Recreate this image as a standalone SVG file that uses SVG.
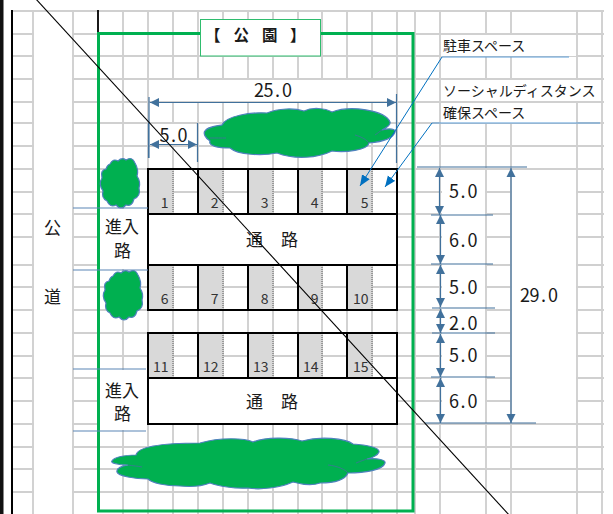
<svg xmlns="http://www.w3.org/2000/svg" xmlns:xlink="http://www.w3.org/1999/xlink" width="613" height="514" viewBox="0 0 613 514">
<style>
text{font-family:"Noto Sans CJK JP","Noto Sans",sans-serif;fill:#1a1a1a}
.g{stroke:#d0d0d0;stroke-width:1.9;fill:none}
.w{fill:#fff}
.k{stroke:#000;fill:none;stroke-width:2}
.p{fill:#d9d9d9}
.d{stroke:#707070;stroke-width:1.2;stroke-dasharray:1 1;fill:none}
.dim{stroke:#41719c;stroke-width:1.2;fill:none;marker-start:url(#a);marker-end:url(#a)}
.dimn{stroke:#41719c;stroke-width:1.2;fill:none}
.t{stroke:#5b86b5;stroke-width:1.2;fill:none}
.lead{stroke:#0070c0;stroke-width:1;fill:none;marker-end:url(#b)}
.leadline{stroke:#5b9bd5;stroke-width:1.2;fill:none}
.sh{fill:#00b050;stroke:#4f81bd;stroke-width:1.2}
.in{fill:none;stroke:#41719c;stroke-width:.8}
.num{font-size:18px}
.n{font-size:14px;text-anchor:end;fill:#333}
.lab{font-size:17px}
.c{font-size:14px}
</style>
<defs>
<marker id="a" markerWidth="10" markerHeight="10" refX="9" refY="5" orient="auto-start-reverse" markerUnits="userSpaceOnUse"><path d="M0 0.5L9 5L0 9.5Z" fill="#41719c"/></marker>
<marker id="b" markerWidth="12" markerHeight="10" refX="11" refY="5" orient="auto" markerUnits="userSpaceOnUse"><path d="M0 0.5L11 5L0 9.5Z" fill="#0070c0"/></marker>
<path id="shrub" class="sh" d="M10 6Q13 0 18 3Q22 -1 26 2Q32 -2 35 5Q39 12 37 18Q41 24 39 30Q41 38 34 41Q32 49 26 47Q21 53 16 47Q10 50 7 43Q1 40 3 33Q-2 26 2 20Q0 12 6 11Q7 7 10 6Z"/>
</defs>
<rect width="613" height="514" class="w"/>
<g id="grid">
<path class="g" d="M33 11V514M73 11V514M123 11V514M148 11V514M173 11V514M198 11V514M223 11V514M248 11V514M273 11V514M298 11V514M322 11V514M347 11V514M372 11V514M397 11V514M415 11V514M440 11V514M486 11V514M511 11V514M577 11V514M602 11V514"/>
<path class="g" d="M12 11H604M12 34H604M12 56H604M12 79H604M12 102H604M12 123H604M12 146H604M12 169H604M12 192H604M12 214H604M12 237H604M12 265H604M12 287H604M12 310H604M12 333H604M12 356H604M12 378H604M12 401H604M12 424H604M12 447H604M12 469H604M12 492H604"/>
<rect class="w" x="34" y="12" width="38" height="502"/>
<rect class="w" x="149" y="80" width="247" height="21"/>
<rect class="w" x="149" y="124" width="48" height="21"/>
<rect class="w" x="442" y="170" width="43" height="253"/>
<rect class="w" x="512" y="170" width="64" height="253"/>
<rect class="w" x="441" y="35" width="135" height="21"/>
<rect class="w" x="441" y="80" width="160" height="21"/>
<rect class="w" x="441" y="103" width="135" height="20"/>
</g>
<g id="site-lines">
<rect x="0" y="0" width="3.5" height="514" fill="#111"/>
<path d="M12 10V514" stroke="#000" stroke-width="2" fill="none"/>
<path d="M98 10V34" stroke="#000" stroke-width="1.8" fill="none"/>
</g>
<g id="park-boundary"><rect x="98.5" y="33.5" width="314.500" height="477.500" fill="none" stroke="#00b050" stroke-width="3"/></g>
<g id="park-title">
<rect x="200.500" y="19.500" width="120" height="36.500" fill="#fff" stroke="#2fbd6e" stroke-width="1"/>
<text x="205 220 233.500 250 262 280 290" y="41" font-size="15.500" font-weight="700">【 公 園 】</text>
</g>
<g id="road"><text class="lab" x="44" y="234" font-size="16">公</text><text class="lab" x="44" y="303">道</text></g>
<g id="entrance-1">
<rect class="w" x="100" y="209" width="47" height="60"/>
<text class="lab" x="105" y="233">進入</text><text class="lab" x="114" y="257">路</text>
</g>
<g id="entrance-2">
<rect class="w" x="100" y="370" width="47" height="60"/>
<text class="lab" x="105" y="397">進入</text><text class="lab" x="114" y="420">路</text>
</g>
<g id="parking-row-1">
<path class="p" d="M148 169h25v45h-25zM198 169h25v45h-25zM248 169h25v45h-25zM298 169h24v45h-24zM347 169h25v45h-25z"/>
<path class="d" d="M173 169v45M223 169v45M273 169v45M322 169v45M372 169v45"/>
<rect class="k" x="148" y="169" width="249" height="45"/>
<path class="k" d="M198 169v45M248 169v45M298 169v45M347 169v45"/>
<text class="n" x="168.500" y="208">1</text><text class="n" x="218.500" y="208">2</text><text class="n" x="268.500" y="208">3</text><text class="n" x="318.500" y="208">4</text><text class="n" x="368.500" y="208">5</text>
</g>
<g id="aisle-1"><rect x="148" y="214" width="249" height="51" fill="#fff" stroke="#000" stroke-width="2"/><text class="lab" x="246" y="246">通</text><text class="lab" x="281" y="246">路</text></g>
<g id="parking-row-2">
<path class="p" d="M148 265h25v45h-25zM198 265h25v45h-25zM248 265h25v45h-25zM298 265h24v45h-24zM347 265h25v45h-25z"/>
<path class="d" d="M173 265v45M223 265v45M273 265v45M322 265v45M372 265v45"/>
<rect class="k" x="148" y="265" width="249" height="45"/>
<path class="k" d="M198 265v45M248 265v45M298 265v45M347 265v45"/>
<text class="n" x="168.500" y="304">6</text><text class="n" x="218.500" y="304">7</text><text class="n" x="268.500" y="304">8</text><text class="n" x="318.500" y="304">9</text><text class="n" x="368.500" y="304">10</text>
</g>
<g id="parking-row-3">
<path class="p" d="M148 333h25v45h-25zM198 333h25v45h-25zM248 333h25v45h-25zM298 333h24v45h-24zM347 333h25v45h-25z"/>
<path class="d" d="M173 333v45M223 333v45M273 333v45M322 333v45M372 333v45"/>
<rect class="k" x="148" y="333" width="249" height="45"/>
<path class="k" d="M198 333v45M248 333v45M298 333v45M347 333v45"/>
<text class="n" x="168.500" y="372">11</text><text class="n" x="218.500" y="372">12</text><text class="n" x="268.500" y="372">13</text><text class="n" x="318.500" y="372">14</text><text class="n" x="368.500" y="372">15</text>
</g>
<g id="aisle-2"><rect x="148" y="378" width="249" height="46" fill="#fff" stroke="#000" stroke-width="2"/><text class="lab" x="246" y="408">通</text><text class="lab" x="281" y="408">路</text></g>
<g id="shrub-left-1"><use xlink:href="#shrub" href="#shrub" x="100" y="158"/></g>
<g id="shrub-left-2"><use xlink:href="#shrub" href="#shrub" x="103" y="270"/></g>
<g id="shrub-top">
<path class="sh" d="M222 125C226 116 250 112 267 113C278 108 295 108 304 111C312 107 325 108 332 112C350 105 385 110 390 122C391 125 386 128 382 130C390 128 396 129 395 132C393 139 380 142 369 143C368 150 345 153 332 151C318 158 295 160 277 153C262 156 238 155 230 148C218 148 208 146 210 141C205 138 203 133 205 131C207 127 215 126 222 125Z"/>
<path class="in" d="M375 135C378 133 380 131 382 130M355 135C362 137 367 140 369 143M210 138C215 138 222 138 226 138"/>
</g>
<g id="shrub-bottom">
<path class="sh" d="M136 455C138 446 165 443 200 443C220 437 245 438 253 442C265 437 290 437 302 441C320 436 345 438 353 444C365 445 380 447 379 452C378 455 372 458 367 459C378 458 386 460 385 463C383 470 365 473 348 473C345 480 335 483 320 483C312 486 300 484 293 482C280 488 260 490 248 488C235 489 218 486 210 483C200 487 190 487 180 486C165 486 152 483 148 479C135 479 118 476 117 472C116 468 122 466 128 465C118 465 110 463 112 461C114 457 125 455 136 455Z"/>
<path class="in" d="M356 463C361 461 364 460 367 459M328 465C338 466 346 470 348 473M128 465C133 466 138 466 142 467"/>
</g>
<g id="connectors">
<path class="t" d="M73 208H148M73 270H148M73 369H146M73 431H146"/>
<path class="dimn" d="M149 97V158M396.500 94V163M148.500 123V158M197.500 123V162"/>
<path class="dim" d="M150 102.500H396"/>
<path class="dim" d="M150 144.500H197"/>
<path class="dimn" d="M417 167H527M431 215H493M431 264H493M432 308H495M432 333H495M431 377H495M425 423H536"/>
<path class="dim" d="M439.500 168V215"/>
<path class="dim" d="M440.500 215V264"/>
<path class="dim" d="M440.500 265V307"/>
<path class="dim" d="M440.500 309V333"/>
<path class="dim" d="M440.500 334V377"/>
<path class="dim" d="M440.500 378V423"/>
<path class="dim" d="M511 168V423"/>
<path class="leadline" d="M442 57H569M432 123H600"/>
<path class="lead" d="M442 57L360 186"/>
<path class="lead" d="M432 123L385 187"/>
</g>
<g id="dimension-labels">
<text class="num" x="254 263.500 275 282" y="97">25.0</text>
<text class="num" x="159.500 171 177.500" y="142">5.0</text>
<text class="num" x="449 460.500 467.500" y="198">5.0</text>
<text class="num" x="449 460.500 467.500" y="247">6.0</text>
<text class="num" x="449 460.500 467.500" y="294">5.0</text>
<text class="num" x="449 460.500 467.500" y="330">2.0</text>
<text class="num" x="449 460.500 467.500" y="362">5.0</text>
<text class="num" x="449 460.500 467.500" y="408">6.0</text>
<text class="num" x="520 529.500 541 548" y="302">29.0</text>
</g>
<g id="callouts">
<text class="c" x="443" y="51">駐車スペース</text>
<text class="c" x="443" y="96">ソーシャルディスタンス</text>
<text class="c" x="443" y="118">確保スペース</text>
</g>
<path id="diagonal" d="M35 -2L510 516" stroke="#000" stroke-width="1.100" fill="none"/>
</svg>
